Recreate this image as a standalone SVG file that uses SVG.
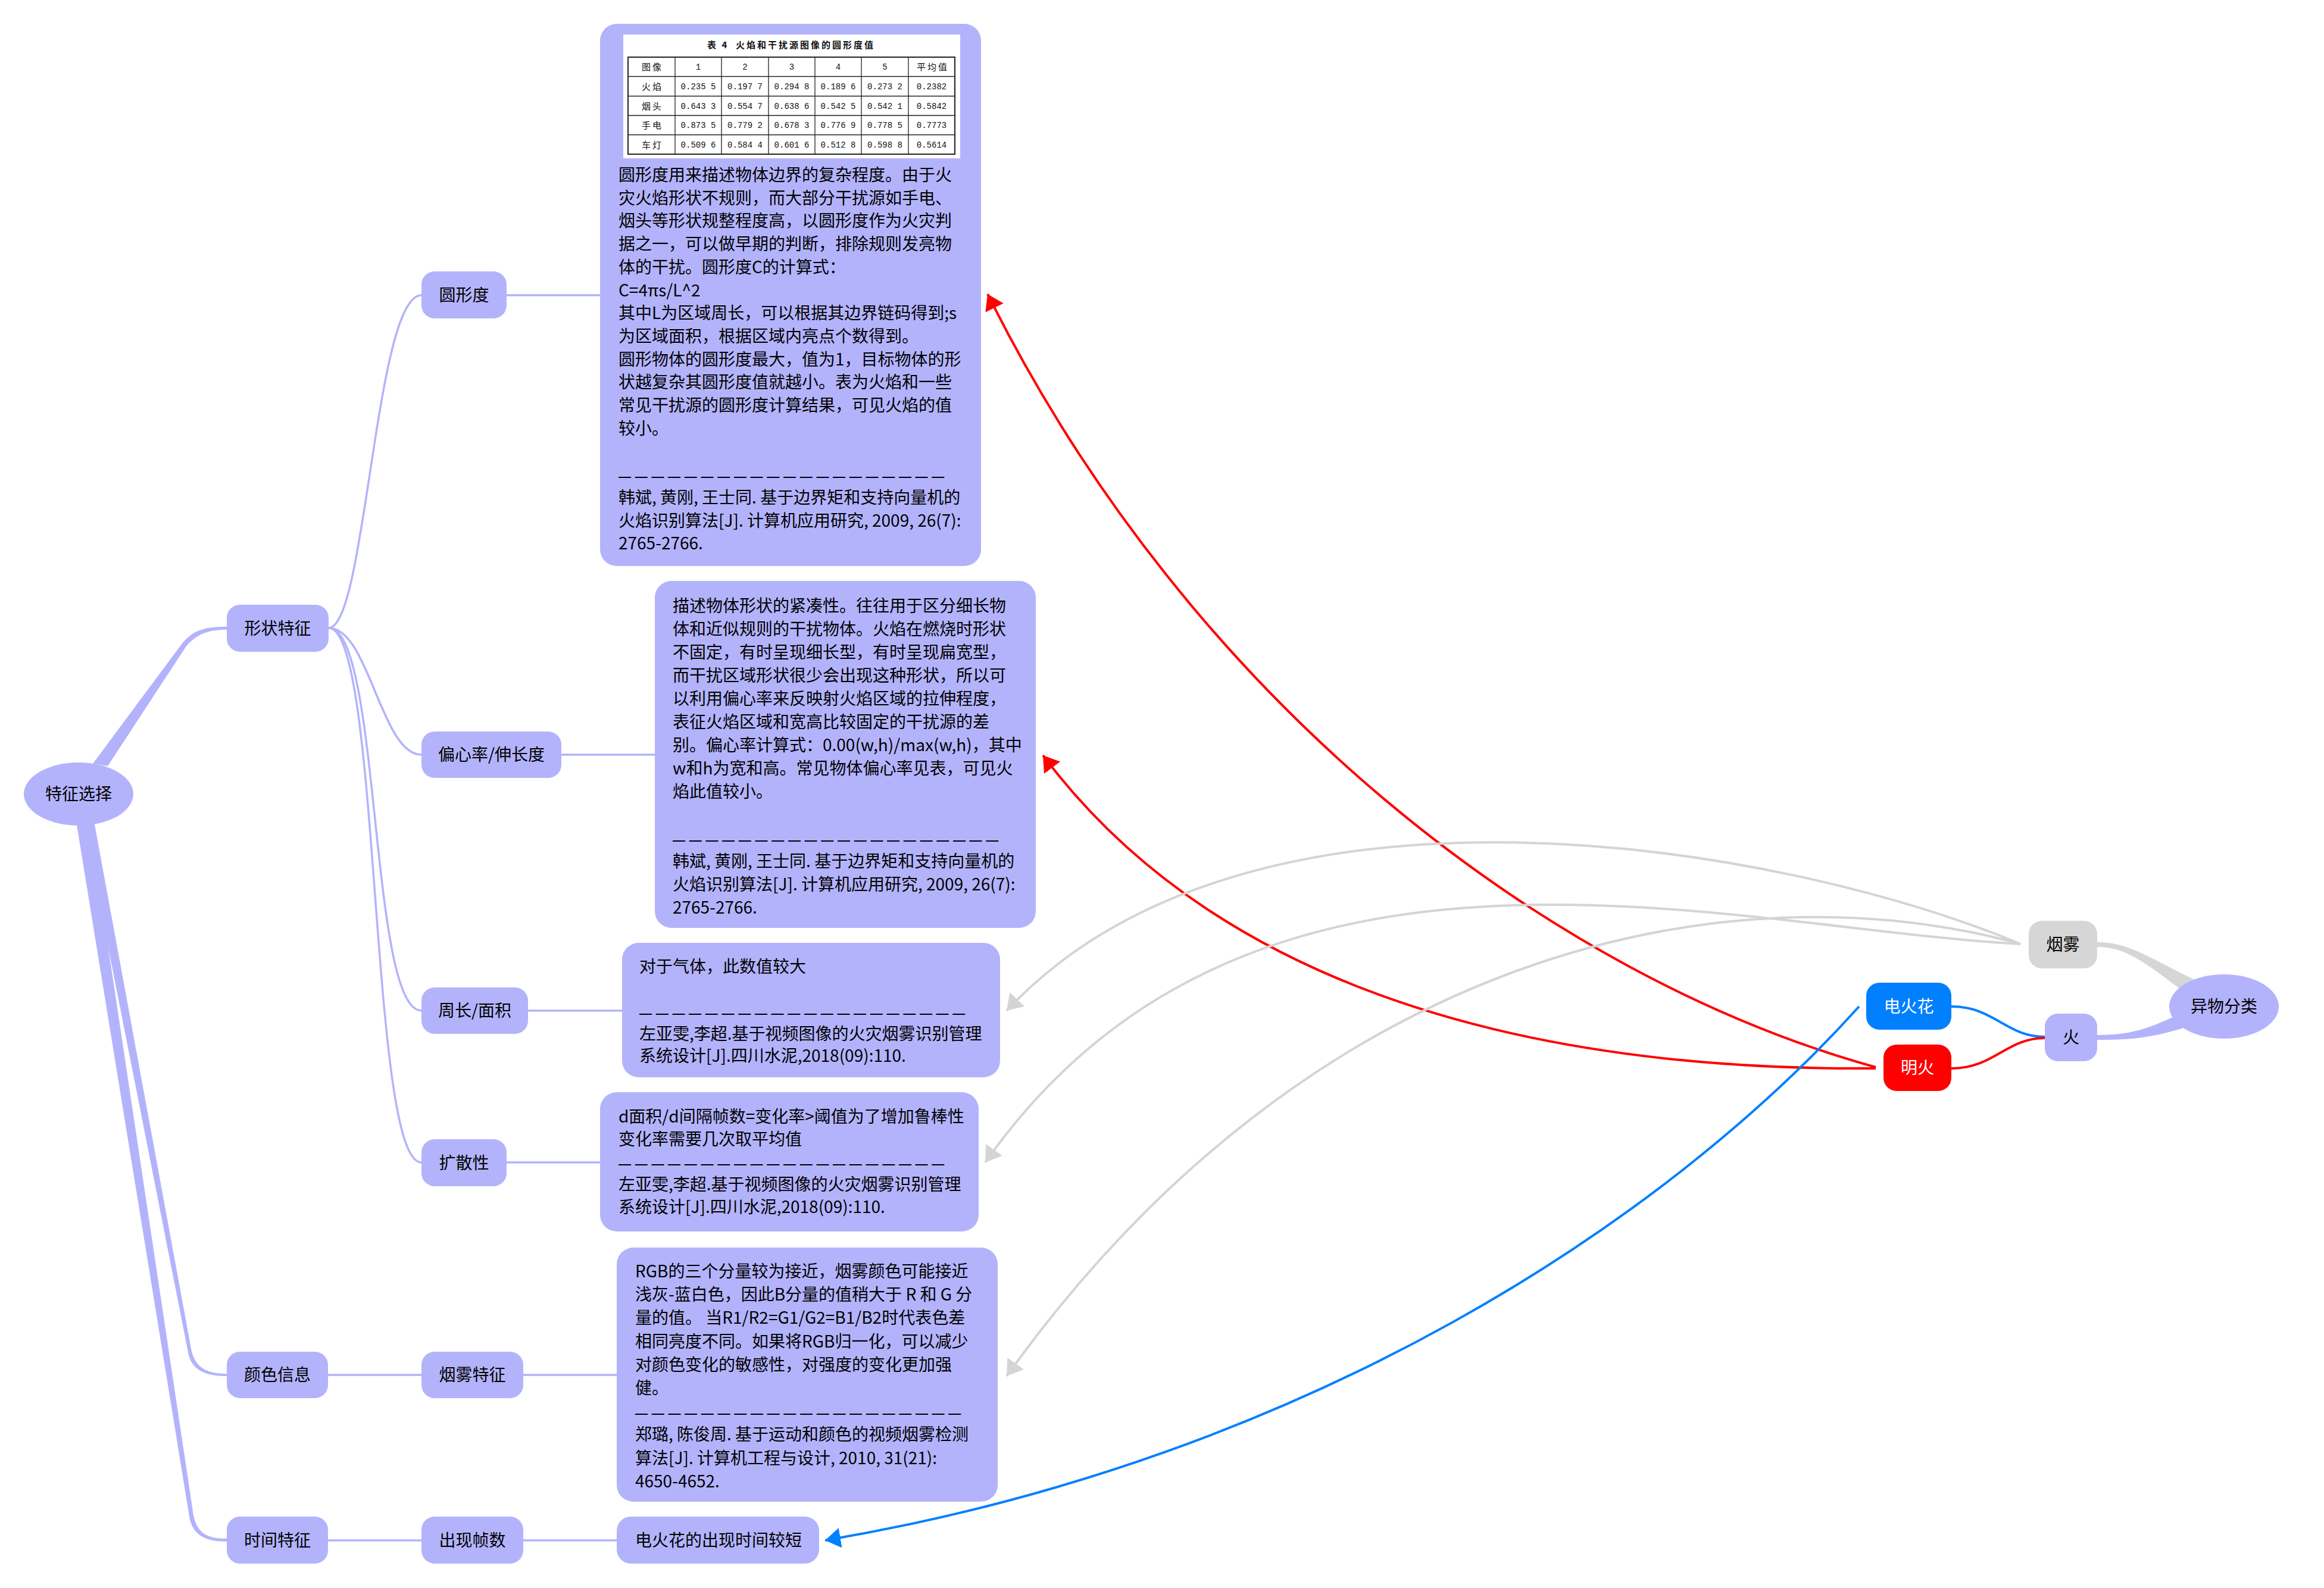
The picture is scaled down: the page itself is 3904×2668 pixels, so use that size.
<svg xmlns="http://www.w3.org/2000/svg" width="3904" height="2668" viewBox="0 0 3904 2668">
<defs>
<style>
.n{fill:#B3B3FC}
.t{font-family:"Noto Sans CJK SC","Liberation Sans",sans-serif;font-size:28px;fill:#000}
.c{text-anchor:middle}
.w{fill:#fff}
.d{font-family:"Liberation Sans",sans-serif;font-size:21px;font-weight:bold;letter-spacing:6.7px}
.lk{fill:none;stroke:#B3B3FC;stroke-width:3.5}
.tb{fill:none;stroke:#222;stroke-width:1.3}
.tc{font-family:"Noto Sans CJK SC",sans-serif;font-size:15px;fill:#111;text-anchor:middle;letter-spacing:3px}
.tn{font-family:"Liberation Mono","Noto Sans CJK SC",monospace;font-size:14px;fill:#111;text-anchor:middle}
</style>
<marker id="mr" markerUnits="userSpaceOnUse" markerWidth="30" markerHeight="36" refX="26" refY="17" orient="auto" viewBox="0 0 30 36"><path d="M0,0 L26,17 L0,34 Z" fill="#FF0000"/></marker>
<marker id="mb" markerUnits="userSpaceOnUse" markerWidth="30" markerHeight="36" refX="26" refY="17" orient="auto" viewBox="0 0 30 36"><path d="M0,0 L26,17 L0,34 Z" fill="#0080FF"/></marker>
<marker id="mg" markerUnits="userSpaceOnUse" markerWidth="30" markerHeight="36" refX="26" refY="17" orient="auto" viewBox="0 0 30 36"><path d="M0,0 L26,17 L0,34 Z" fill="#D4D4D4"/></marker>
</defs>
<rect x="0" y="0" width="3904" height="2668" fill="#fff"/>

<g id="connectors">
<path class="n" d="M156,1283 L306,1081 C325,1058 345,1053 381,1053 L381,1058 C350,1058 330,1065 312,1087 L181,1287 Z"/>
<path class="n" d="M140,1380 L316,2272 C321,2300 342,2312 381,2312 L381,2308 C350,2308 330,2300 322,2271 L158,1380 Z"/>
<path class="n" d="M128,1380 L318,2548 C323,2578 343,2590 381,2590 L381,2585 C350,2585 332,2578 325,2546 L150,1380 Z"/>
<path class="lk" d="M552,1055 C615,1055 630,496 708,496"/>
<path class="lk" d="M552,1055 C620,1055 640,1268 708,1268"/>
<path class="lk" d="M552,1055 C640,1055 620,1698 708,1698"/>
<path class="lk" d="M552,1055 C640,1055 620,1953 708,1953"/>
<path class="lk" d="M851,496 H1008"/>
<path class="lk" d="M943,1268 H1100"/>
<path class="lk" d="M887,1698 H1045"/>
<path class="lk" d="M851,1953 H1008"/>
<path class="lk" d="M551,2310 H708"/>
<path class="lk" d="M879,2310 H1036"/>
<path class="lk" d="M551,2588 H708"/>
<path class="lk" d="M879,2588 H1036"/>
<path d="M3523,1583 C3570,1583 3595,1600 3686,1646 L3663,1662 C3600,1615 3570,1591 3523,1591 Z" fill="#D6D6D6"/>
<path class="n" d="M3523,1739 C3575,1739 3605,1730 3652,1708 L3668,1727 C3610,1745 3575,1747 3523,1747 Z"/>
<path d="M3435,1742 C3370,1742 3350,1691 3278,1691" fill="none" stroke="#0080FF" stroke-width="4"/>
<path d="M3435,1744 C3370,1744 3350,1795 3278,1795" fill="none" stroke="#FF0000" stroke-width="4"/>
<path d="M3151,1793 C2600,1640 2000,1180 1659,494" fill="none" stroke="#FF0000" stroke-width="4" marker-end="url(#mr)"/>
<path d="M3151,1795 C2450,1800 2000,1600 1752,1269" fill="none" stroke="#FF0000" stroke-width="4" marker-end="url(#mr)"/>
<path d="M3123,1691 C2800,2050 2200,2450 1386,2588" fill="none" stroke="#0080FF" stroke-width="4" marker-end="url(#mb)"/>
<path d="M3394,1586 C3000,1420 2100,1260 1691,1698" fill="none" stroke="#D4D4D4" stroke-width="4" marker-end="url(#mg)"/>
<path d="M3394,1586 C2900,1560 2100,1320 1655,1953" fill="none" stroke="#D4D4D4" stroke-width="4" marker-end="url(#mg)"/>
<path d="M3394,1586 C2900,1450 2200,1600 1691,2312" fill="none" stroke="#D4D4D4" stroke-width="4" marker-end="url(#mg)"/>
</g>

<g id="n-root"><ellipse class="n" cx="132" cy="1334" rx="92" ry="53"/><text class="t c" x="132" y="1344">特征选择</text></g>
<g id="n-shape"><rect class="n" x="381" y="1016" width="171" height="79" rx="22"/><text class="t c" x="466.5" y="1066">形状特征</text></g>
<g id="n-circ"><rect class="n" x="708" y="456" width="143" height="79" rx="22"/><text class="t c" x="779.5" y="506">圆形度</text></g>
<g id="n-ecc"><rect class="n" x="708" y="1229" width="235" height="78" rx="22"/><text class="t c" x="825.5" y="1278">偏心率/伸长度</text></g>
<g id="n-peri"><rect class="n" x="708" y="1659" width="179" height="78" rx="22"/><text class="t c" x="797.5" y="1708">周长/面积</text></g>
<g id="n-diff"><rect class="n" x="708" y="1914" width="143" height="79" rx="22"/><text class="t c" x="779.5" y="1964">扩散性</text></g>
<g id="n-color"><rect class="n" x="381" y="2271" width="170" height="78" rx="22"/><text class="t c" x="466" y="2320">颜色信息</text></g>
<g id="n-smokef"><rect class="n" x="708" y="2271" width="171" height="78" rx="22"/><text class="t c" x="793.5" y="2320">烟雾特征</text></g>
<g id="n-time"><rect class="n" x="381" y="2548" width="170" height="79" rx="22"/><text class="t c" x="466" y="2598">时间特征</text></g>
<g id="n-frames"><rect class="n" x="708" y="2548" width="171" height="79" rx="22"/><text class="t c" x="793.5" y="2598">出现帧数</text></g>

<g id="note-circ">
<rect class="n" x="1008" y="40" width="640" height="911" rx="28"/>
<rect x="1047" y="58" width="566" height="208" fill="#fff"/>
<text x="1188" y="81" font-family="Noto Sans CJK SC,sans-serif" font-size="15" font-weight="bold" fill="#111" letter-spacing="3"><tspan x="1188">表 4</tspan><tspan x="1236">火焰和干扰源图像的圆形度值</tspan></text>
<rect x="1055" y="96" width="549" height="163" fill="none" stroke="#222" stroke-width="2"/>
<path class="tb" d="M1055,128.5 H1604 M1055,161.5 H1604 M1055,194 H1604 M1055,226.5 H1604 M1134,96 V259 M1212,96 V259 M1291,96 V259 M1369,96 V259 M1447,96 V259 M1526,96 V259"/>
<text class="tc" x="1096" y="118">图像</text>
<text class="tn" x="1173" y="117">1</text><text class="tn" x="1251.5" y="117">2</text><text class="tn" x="1330" y="117">3</text><text class="tn" x="1408" y="117">4</text><text class="tn" x="1486.5" y="117">5</text>
<text class="tc" x="1567" y="118">平均值</text>
<text class="tc" x="1096" y="151">火焰</text>
<text class="tn" x="1173" y="150">0.235 5</text><text class="tn" x="1251.5" y="150">0.197 7</text><text class="tn" x="1330" y="150">0.294 8</text><text class="tn" x="1408" y="150">0.189 6</text><text class="tn" x="1486.5" y="150">0.273 2</text><text class="tn" x="1565" y="150">0.2382</text>
<text class="tc" x="1096" y="184">烟头</text>
<text class="tn" x="1173" y="183">0.643 3</text><text class="tn" x="1251.5" y="183">0.554 7</text><text class="tn" x="1330" y="183">0.638 6</text><text class="tn" x="1408" y="183">0.542 5</text><text class="tn" x="1486.5" y="183">0.542 1</text><text class="tn" x="1565" y="183">0.5842</text>
<text class="tc" x="1096" y="216">手电</text>
<text class="tn" x="1173" y="215">0.873 5</text><text class="tn" x="1251.5" y="215">0.779 2</text><text class="tn" x="1330" y="215">0.678 3</text><text class="tn" x="1408" y="215">0.776 9</text><text class="tn" x="1486.5" y="215">0.778 5</text><text class="tn" x="1565" y="215">0.7773</text>
<text class="tc" x="1096" y="249">车灯</text>
<text class="tn" x="1173" y="248">0.509 6</text><text class="tn" x="1251.5" y="248">0.584 4</text><text class="tn" x="1330" y="248">0.601 6</text><text class="tn" x="1408" y="248">0.512 8</text><text class="tn" x="1486.5" y="248">0.598 8</text><text class="tn" x="1565" y="248">0.5614</text>
<text class="t" x="1039" y="304">
<tspan x="1039" y="304">圆形度用来描述物体边界的复杂程度。由于火</tspan>
<tspan x="1039" dy="38.7">灾火焰形状不规则，而大部分干扰源如手电、</tspan>
<tspan x="1039" dy="38.7">烟头等形状规整程度高，以圆形度作为火灾判</tspan>
<tspan x="1039" dy="38.7">据之一，可以做早期的判断，排除规则发亮物</tspan>
<tspan x="1039" dy="38.7">体的干扰。圆形度C的计算式：</tspan>
<tspan x="1039" dy="38.7">C=4πs/L^2</tspan>
<tspan x="1039" dy="38.7">其中L为区域周长，可以根据其边界链码得到;s</tspan>
<tspan x="1039" dy="38.7">为区域面积，根据区域内亮点个数得到。</tspan>
<tspan x="1039" dy="38.7">圆形物体的圆形度最大，值为1，目标物体的形</tspan>
<tspan x="1039" dy="38.7">状越复杂其圆形度值就越小。表为火焰和一些</tspan>
<tspan x="1039" dy="38.7">常见干扰源的圆形度计算结果，可见火焰的值</tspan>
<tspan x="1039" dy="38.7">较小。</tspan>
<tspan class="d" x="1039" dy="77.4">————————————————————</tspan>
<tspan x="1039" dy="38.7">韩斌, 黄刚, 王士同. 基于边界矩和支持向量机的</tspan>
<tspan x="1039" dy="38.7">火焰识别算法[J]. 计算机应用研究, 2009, 26(7):</tspan>
<tspan x="1039" dy="38.7">2765-2766.</tspan>
</text>
</g>

<g id="note-ecc">
<rect class="n" x="1100" y="976" width="640" height="583" rx="28"/>
<text class="t" x="1130" y="1028">
<tspan x="1130" y="1028">描述物体形状的紧凑性。往往用于区分细长物</tspan>
<tspan x="1130" dy="39">体和近似规则的干扰物体。火焰在燃烧时形状</tspan>
<tspan x="1130" dy="39">不固定，有时呈现细长型，有时呈现扁宽型，</tspan>
<tspan x="1130" dy="39">而干扰区域形状很少会出现这种形状，所以可</tspan>
<tspan x="1130" dy="39">以利用偏心率来反映射火焰区域的拉伸程度，</tspan>
<tspan x="1130" dy="39">表征火焰区域和宽高比较固定的干扰源的差</tspan>
<tspan x="1130" dy="39">别。偏心率计算式：0.00(w,h)/max(w,h)，其中</tspan>
<tspan x="1130" dy="39">w和h为宽和高。常见物体偏心率见表，可见火</tspan>
<tspan x="1130" dy="39">焰此值较小。</tspan>
<tspan class="d" x="1130" dy="78">————————————————————</tspan>
<tspan x="1130" dy="39">韩斌, 黄刚, 王士同. 基于边界矩和支持向量机的</tspan>
<tspan x="1130" dy="39">火焰识别算法[J]. 计算机应用研究, 2009, 26(7):</tspan>
<tspan x="1130" dy="39">2765-2766.</tspan>
</text>
</g>

<g id="note-peri">
<rect class="n" x="1045" y="1584" width="635" height="226" rx="28"/>
<text class="t" x="1074" y="1634">
<tspan x="1074" y="1634">对于气体，此数值较大</tspan>
<tspan class="d" x="1074" dy="75">————————————————————</tspan>
<tspan x="1074" dy="37.5">左亚雯,李超.基于视频图像的火灾烟雾识别管理</tspan>
<tspan x="1074" dy="37.5">系统设计[J].四川水泥,2018(09):110.</tspan>
</text>
</g>

<g id="note-diff">
<rect class="n" x="1008" y="1835" width="636" height="234" rx="28"/>
<text class="t" x="1039" y="1886">
<tspan x="1039" y="1886">d面积/d间隔帧数=变化率&gt;阈值为了增加鲁棒性</tspan>
<tspan x="1039" dy="38">变化率需要几次取平均值</tspan>
<tspan class="d" x="1039" dy="38">————————————————————</tspan>
<tspan x="1039" dy="38">左亚雯,李超.基于视频图像的火灾烟雾识别管理</tspan>
<tspan x="1039" dy="38">系统设计[J].四川水泥,2018(09):110.</tspan>
</text>
</g>

<g id="note-smoke">
<rect class="n" x="1036" y="2096" width="640" height="427" rx="28"/>
<text class="t" x="1067" y="2146">
<tspan x="1067" y="2146">RGB的三个分量较为接近，烟雾颜色可能接近</tspan>
<tspan x="1067" dy="39.2">浅灰-蓝白色，因此B分量的值稍大于 R 和 G 分</tspan>
<tspan x="1067" dy="39.2">量的值。 当R1/R2=G1/G2=B1/B2时代表色差</tspan>
<tspan x="1067" dy="39.2">相同亮度不同。如果将RGB归一化，可以减少</tspan>
<tspan x="1067" dy="39.2">对颜色变化的敏感性，对强度的变化更加强</tspan>
<tspan x="1067" dy="39.2">健。</tspan>
<tspan class="d" x="1067" dy="39.2">————————————————————</tspan>
<tspan x="1067" dy="39.2">郑璐, 陈俊周. 基于运动和颜色的视频烟雾检测</tspan>
<tspan x="1067" dy="39.2">算法[J]. 计算机工程与设计, 2010, 31(21):</tspan>
<tspan x="1067" dy="39.2">4650-4652.</tspan>
</text>
</g>

<g id="note-spark">
<rect class="n" x="1036" y="2548" width="340" height="79" rx="24"/>
<text class="t" x="1067" y="2598">电火花的出现时间较短</text>
</g>

<g id="n-smoke"><rect x="3408" y="1547" width="115" height="80" rx="22" fill="#D6D6D6"/><text class="t c" x="3465.5" y="1597">烟雾</text></g>
<g id="n-spark"><rect x="3135" y="1651" width="143" height="79" rx="22" fill="#0080FF"/><text class="t c w" x="3206.5" y="1701">电火花</text></g>
<g id="n-flame"><rect x="3164" y="1755" width="114" height="78" rx="22" fill="#FF0000"/><text class="t c w" x="3221" y="1804">明火</text></g>
<g id="n-fire"><rect class="n" x="3435" y="1703" width="88" height="80" rx="22"/><text class="t c" x="3479" y="1753">火</text></g>
<g id="n-cls"><ellipse class="n" cx="3736" cy="1691" rx="92" ry="54"/><text class="t c" x="3736" y="1701">异物分类</text></g>
</svg>
